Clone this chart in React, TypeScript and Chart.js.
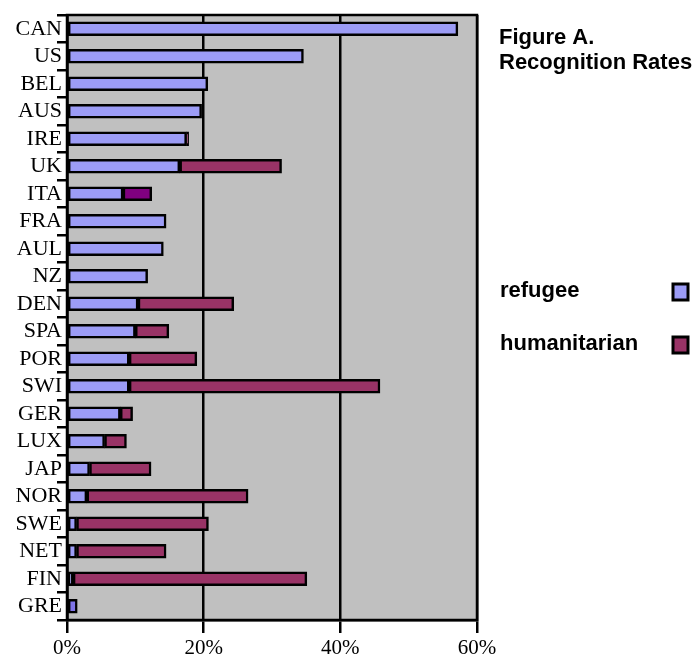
import React, { useEffect, useRef } from "react";
import { Chart, registerables } from "chart.js";

Chart.register(...registerables);

const categories = ["CAN", "US", "BEL", "AUS", "IRE", "UK", "ITA", "FRA", "AUL", "NZ", "DEN", "SPA", "POR", "SWI", "GER", "LUX", "JAP", "NOR", "SWE", "NET", "FIN", "GRE"];
const refugee = [57.2, 34.6, 20.6, 19.7, 17.5, 16.5, 8.2, 14.5, 14.1, 11.8, 10.4, 10.0, 9.1, 9.1, 7.8, 5.5, 3.3, 2.9, 1.4, 1.4, 0.9, 1.5];
const humanitarian = [null, null, null, null, 0.3, 14.9, 4.2, null, null, null, 14.0, 4.9, 9.9, 36.7, 1.8, 3.2, 9.0, 23.6, 19.3, 13.1, 34.2, null];
const xTicks = [0, 20, 40, 60];
const seriesLabels = ["refugee", "humanitarian"];
const titleLines = ["Figure A.", "Recognition Rates"];

const REF_COLOR = "#9c9cf6";
const HUM_COLOR = "#993366";

const overlayPlugin = {
  id: "overlay",
  beforeDraw(chart: any) {
    const { ctx, chartArea } = chart;
    ctx.save();
    ctx.fillStyle = "#ffffff";
    ctx.fillRect(0, 0, chart.width, chart.height);
    ctx.fillStyle = "#c0c0c0";
    ctx.fillRect(chartArea.left, chartArea.top, chartArea.right - chartArea.left, chartArea.bottom - chartArea.top);
    ctx.restore();
  },
  beforeDatasetsDraw(chart: any) {
    const { ctx, chartArea } = chart;
    ctx.save();
    ctx.strokeStyle = "#000";
    ctx.lineWidth = 2.5;
    ctx.strokeRect(chartArea.left, chartArea.top, chartArea.right - chartArea.left, chartArea.bottom - chartArea.top);
    ctx.restore();
  },
  afterDraw(chart: any) {
    const { ctx } = chart;
    ctx.save();
    ctx.fillStyle = "#000";
    ctx.font = "bold 22px 'Liberation Sans', Arial, sans-serif";
    ctx.textAlign = "left";
    ctx.textBaseline = "alphabetic";
    ctx.fillText(titleLines[0], 499, 44);
    ctx.fillText(titleLines[1], 499, 69);
    const legendY = [297, 350];
    const colors = [REF_COLOR, HUM_COLOR];
    seriesLabels.forEach((lab, i) => {
      ctx.fillStyle = "#000";
      ctx.fillText(lab, 500, legendY[i]);
      ctx.fillStyle = colors[i];
      ctx.fillRect(673, legendY[i] - 13, 15, 16);
      ctx.strokeStyle = "#000";
      ctx.lineWidth = 3;
      ctx.strokeRect(673, legendY[i] - 13, 15, 16);
    });
    ctx.restore();
  },
};

export default function App() {
  const ref = useRef<HTMLCanvasElement | null>(null);
  useEffect(() => {
    if (!ref.current) return;
    const chart = new Chart(ref.current, {
      type: "bar",
      data: {
        labels: categories,
        datasets: [
          {
            label: seriesLabels[0],
            data: refugee,
            backgroundColor: categories.map((c) => (c === "GRE" ? "#7f74e8" : REF_COLOR)),
            borderColor: "#000",
            borderWidth: 2.5,
            borderSkipped: false,
            barThickness: 14,
          },
          {
            label: seriesLabels[1],
            data: humanitarian as any,
            backgroundColor: categories.map((c) => (c === "ITA" ? "#800080" : HUM_COLOR)),
            borderColor: "#000",
            borderWidth: 2.5,
            borderSkipped: false,
            barThickness: 14,
          },
        ],
      },
      options: {
        indexAxis: "y",
        responsive: false,
        animation: false,
        layout: { padding: { left: 0, right: 216, top: 15, bottom: 0 } },
        plugins: { legend: { display: false }, tooltip: { enabled: false }, title: { display: false } },
        scales: {
          x: {
            stacked: true,
            min: 0,
            max: 60,
            afterBuildTicks: (scale: any) => {
              scale.ticks = xTicks.map((v) => ({ value: v }));
            },
            afterFit: (scale: any) => {
              scale.height = 46;
            },
            ticks: {
              callback: (v: any) => v + "%",
              color: "#000",
              font: { family: "'Liberation Serif', 'Times New Roman', serif", size: 21 },
              padding: 3,
              maxRotation: 0,
            },
            grid: { color: "#000", lineWidth: 2.5, tickLength: 13, drawTicks: true },
            border: { color: "#000", width: 2.5 },
          },
          y: {
            stacked: true,
            afterFit: (scale: any) => {
              scale.width = 67;
            },
            ticks: {
              color: "#000",
              font: { family: "'Liberation Serif', 'Times New Roman', serif", size: 22 },
              padding: -5,
              autoSkip: false,
            },
            grid: { color: "#000", lineWidth: 2.5, tickLength: 10, drawOnChartArea: false, drawTicks: true, offset: true },
            border: { color: "#000", width: 2.5 },
          },
        },
      },
      plugins: [overlayPlugin],
    });
    return () => chart.destroy();
  }, []);
  return (
    <div style={{ position: "fixed", left: 0, top: 0, width: 693, height: 666, background: "#fff" }}>
      <canvas ref={ref} width={693} height={666} style={{ display: "block" }} />
    </div>
  );
}
